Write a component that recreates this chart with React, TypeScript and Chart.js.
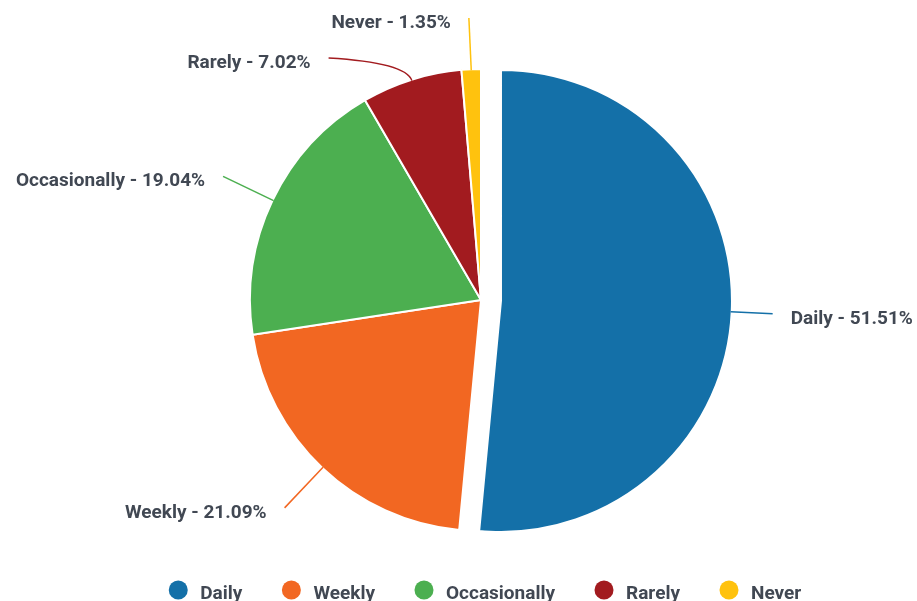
import React, { useEffect, useRef } from "react";
import { Chart, registerables } from "chart.js";

Chart.register(...registerables);

const categories = ["Daily", "Weekly", "Occasionally", "Rarely", "Never"];
const shares = [51.51, 21.09, 19.04, 7.02, 1.35];
const colors = ["#1470A8", "#F26722", "#4CAF50", "#A21B1F", "#FFC20E"];
// pixels each slice is pulled out from the centre
const explode = [20, 0, 0, 0, 0];

const TEXT_COLOR = "#414853";
const FONT = "bold 19px Roboto, 'Noto Sans', sans-serif";

// Translate exploded arcs without enlarging their radius
const explodePlugin = {
  id: "explodeSlices",
  beforeDatasetsDraw(chart: any) {
    const meta = chart.getDatasetMeta(0);
    meta.data.forEach((arc: any, i: number) => {
      const shift = explode[i];
      if (!shift || arc.__exploded) return;
      const orig = arc.draw.bind(arc);
      arc.draw = (ctx: CanvasRenderingContext2D, area: any) => {
        const mid = (arc.startAngle + arc.endAngle) / 2;
        ctx.save();
        ctx.translate(Math.cos(mid) * shift, Math.sin(mid) * shift);
        orig(ctx, area);
        ctx.restore();
      };
      arc.__exploded = true;
    });
  },
};

const labelPlugin = {
  id: "pieLabels",
  afterDatasetsDraw(chart: any) {
    const meta = chart.getDatasetMeta(0);
    const ctx = chart.ctx as CanvasRenderingContext2D;
    const EXTRA = 55;
    const GAP = 40;
    const TOP = 18;
    const items = meta.data.map((arc: any, i: number) => {
      const p = arc.getProps(["x", "y", "startAngle", "endAngle", "outerRadius"], true);
      const mid = (p.startAngle + p.endAngle) / 2;
      const dx = Math.cos(mid);
      const dy = Math.sin(mid);
      const R = p.outerRadius + EXTRA + explode[i] * 0.3;
      return {
        i,
        cx: p.x,
        cy: p.y,
        dx,
        dy,
        r: p.outerRadius,
        off: explode[i],
        R,
        left: dx < 0,
        ly: Math.max(p.y + dy * R, TOP),
        lx: p.x + dx * R,
      };
    });
    [true, false].forEach((side) => {
      const group = items.filter((it: any) => it.left === side).sort((a: any, b: any) => a.ly - b.ly);
      for (let k = 1; k < group.length; k++) {
        const it = group[k];
        if (it.ly < group[k - 1].ly + GAP) {
          it.ly = group[k - 1].ly + GAP;
          const d = it.ly - it.cy;
          const h = Math.sqrt(Math.max(it.R * it.R - d * d, 0));
          it.lx = it.left ? it.cx - h : it.cx + h;
        }
      }
    });

    ctx.save();
    items.forEach((it: any) => {
      const ar = it.r + it.off - 1;
      const ax = it.cx + it.dx * ar;
      const ay = it.cy + it.dy * ar;
      const cr = it.r + it.off + 18;
      const qx = it.cx + it.dx * cr;
      const qy = it.cy + it.dy * cr;
      ctx.beginPath();
      ctx.moveTo(ax, ay);
      ctx.quadraticCurveTo(qx, qy, it.lx, it.ly);
      ctx.strokeStyle = colors[it.i];
      ctx.lineWidth = 1.5;
      ctx.stroke();

      ctx.font = FONT;
      ctx.fillStyle = TEXT_COLOR;
      ctx.textBaseline = "middle";
      const text = `${categories[it.i]} - ${shares[it.i].toFixed(2)}%`;
      if (it.left) {
        ctx.textAlign = "right";
        ctx.fillText(text, it.lx - 18, it.ly + 5);
      } else {
        ctx.textAlign = "left";
        ctx.fillText(text, it.lx + 18, it.ly + 5);
      }
    });
    ctx.restore();
  },
};

const legendPlugin = {
  id: "bottomLegend",
  afterDraw(chart: any) {
    const ctx = chart.ctx as CanvasRenderingContext2D;
    const area = chart.chartArea;
    const RADIUS = 9.5;
    const TO_TEXT = 22;
    const TO_NEXT = 49;
    ctx.save();
    ctx.font = FONT;
    const widths = categories.map((c) => ctx.measureText(c).width);
    let total = RADIUS;
    widths.forEach((w, i) => {
      total += TO_TEXT + w;
      if (i < widths.length - 1) total += TO_NEXT;
    });
    const centerX = (area.left + area.right) / 2 + 4;
    let cx = centerX - total / 2 + RADIUS;
    const cy = 590;
    categories.forEach((c, i) => {
      ctx.beginPath();
      ctx.arc(cx, cy, RADIUS, 0, Math.PI * 2);
      ctx.fillStyle = colors[i];
      ctx.fill();
      ctx.fillStyle = TEXT_COLOR;
      ctx.textAlign = "left";
      ctx.textBaseline = "alphabetic";
      ctx.fillText(c, cx + TO_TEXT, 599);
      cx += TO_TEXT + widths[i] + TO_NEXT;
    });
    ctx.restore();
  },
};

export default function App() {
  const canvasRef = useRef<HTMLCanvasElement | null>(null);

  useEffect(() => {
    if (!canvasRef.current) return;
    const chart = new Chart(canvasRef.current, {
      type: "pie",
      data: {
        labels: categories,
        datasets: [
          {
            data: shares,
            backgroundColor: colors,
            borderColor: "#ffffff",
            borderWidth: 2,
          },
        ],
      },
      options: {
        responsive: false,
        animation: false,
        events: [],
        radius: 231,
        layout: { padding: { left: 231, right: 186, top: 50, bottom: 51 } },
        plugins: {
          legend: { display: false },
          tooltip: { enabled: false },
          title: { display: false },
        },
      } as any,
      plugins: [explodePlugin, labelPlugin, legendPlugin],
    });
    return () => chart.destroy();
  }, []);

  return (
    <div style={{ position: "absolute", left: 0, top: 0, width: 917, height: 601, background: "#ffffff" }}>
      <canvas ref={canvasRef} width={917} height={601} style={{ display: "block" }} />
    </div>
  );
}
